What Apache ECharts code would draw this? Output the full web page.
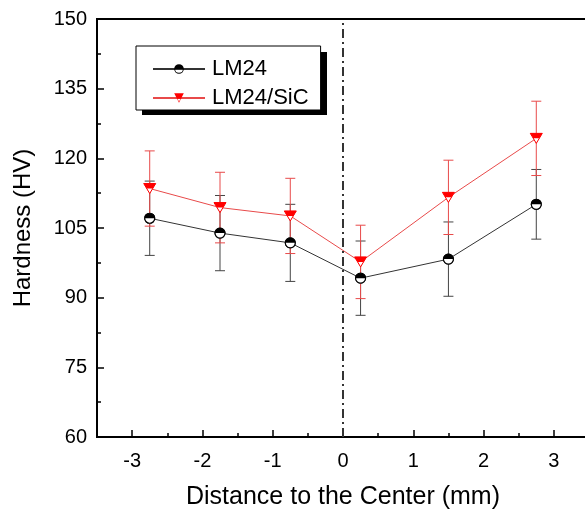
<!DOCTYPE html>
<html>
<head>
<meta charset="utf-8">
<script src="https://cdn.jsdelivr.net/npm/echarts@6/dist/echarts.min.js"></script>
<style>
  html, body { margin: 0; padding: 0; background: #fff; }
  #chart { width: 585px; height: 513px; }
</style>
</head>
<body>
<div id="chart"></div>
<script>
// positions along the weld, mm
var distance = [-2.75, -1.75, -0.75, 0.25, 1.5, 2.75]
// hardness HV and error bars
var lm24 = [107.1, 103.9, 101.8, 94.2, 98.3, 110.1]
var lm24Err = [8, 8.1, 8.3, 8, 8, 7.5]
var lm24Sic = [113.5, 109.4, 107.6, 97.7, 111.6, 124.3]
var lm24SicErr = [8.1, 7.6, 8.1, 7.9, 8, 8]
var xMajor = [-3, -2, -1, 0, 1, 2, 3]
var xMinor = [-2.5, -1.5, -0.5, 0.5, 1.5, 2.5]

var FONT = '"Liberation Sans", Arial, sans-serif'

// half filled symbols for the legend
var circlePath = 'path://M-5,0 A5,5 0 0 1 5,0 Z M-5,0 A5,5 0 0 0 5,0 L4,0 A4,4 0 0 1 -4,0 Z'
var triPath = 'path://M-6,-5 L6,-5 L3,0 L-3,0 Z M-3,0 L3,0 L0,5 Z M-2,0.8 L0,3.6 L2,0.8 Z'

function pairs(ys, errs) {
  return distance.map(function (x, i) {
    return errs ? [x, ys[i], errs[i]] : [x, ys[i]]
  })
}

function errorBars(color) {
  return function (params, api) {
    var x = api.value(0)
    var y = api.value(1)
    var e = api.value(2)
    var top = api.coord([x, y + e])
    var bot = api.coord([x, y - e])
    var w = 5
    var style = { stroke: color, lineWidth: 1 }
    return {
      type: 'group',
      children: [
        { type: 'line', shape: { x1: top[0], y1: top[1], x2: bot[0], y2: bot[1] }, style: style },
        { type: 'line', shape: { x1: top[0] - w, y1: top[1], x2: top[0] + w, y2: top[1] }, style: style },
        { type: 'line', shape: { x1: bot[0] - w, y1: bot[1], x2: bot[0] + w, y2: bot[1] }, style: style }
      ]
    }
  }
}

function circleMarker(params, api) {
  var p = api.coord([api.value(0), api.value(1)])
  var r = 5
  return {
    type: 'group',
    children: [
      { type: 'circle', shape: { cx: p[0], cy: p[1], r: r }, style: { fill: '#fff', stroke: '#000', lineWidth: 1.2 } },
      { type: 'sector', shape: { cx: p[0], cy: p[1], r: r, r0: 0, startAngle: Math.PI, endAngle: Math.PI * 2, clockwise: true }, style: { fill: '#000' } }
    ]
  }
}

function triMarker(params, api) {
  var p = api.coord([api.value(0), api.value(1)])
  var cx = p[0]
  var cy = p[1]
  return {
    type: 'group',
    children: [
      { type: 'polygon', shape: { points: [[cx - 6, cy - 5], [cx + 6, cy - 5], [cx, cy + 5]] }, style: { fill: '#fff', stroke: '#f00', lineWidth: 1 } },
      { type: 'polygon', shape: { points: [[cx - 6, cy - 5], [cx + 6, cy - 5], [cx + 3, cy], [cx - 3, cy]] }, style: { fill: '#f00' } }
    ]
  }
}

var chart = echarts.init(document.getElementById('chart'))
var option = {
  animation: false,
  textStyle: { fontFamily: FONT },
  grid: {
    left: 97,
    right: -4,
    top: 19,
    bottom: 76,
    outerBoundsMode: 'none',
    show: true,
    borderColor: '#000',
    borderWidth: 2,
    backgroundColor: 'transparent'
  },
  // hard drop shadow behind the legend box
  graphic: [
    { type: 'rect', left: 142, top: 52, shape: { width: 185, height: 63 }, style: { fill: '#000' }, z: 1 }
  ],
  legend: {
    left: 136,
    top: 46,
    orient: 'vertical',
    padding: [12, 12, 1, 16],
    itemWidth: 52,
    itemHeight: 12,
    itemGap: 7,
    backgroundColor: '#fff',
    borderColor: '#000',
    borderWidth: 1,
    z: 5,
    textStyle: { fontFamily: FONT, fontSize: 22, color: '#000', padding: [0, 0, 0, 2] },
    data: ['LM24', 'LM24/SiC']
  },
  xAxis: [
    {
      type: 'value',
      min: -3.5,
      max: 3.5,
      interval: 0.5,
      name: 'Distance to the Center (mm)',
      nameLocation: 'middle',
      nameGap: 48,
      nameTextStyle: { fontFamily: FONT, fontSize: 25, color: '#000' },
      axisLine: { onZero: false, lineStyle: { color: '#000', width: 2 } },
      axisTick: { inside: true, length: 7, customValues: xMajor, lineStyle: { color: '#000', width: 1.5 } },
      axisLabel: { customValues: xMajor, fontFamily: FONT, fontSize: 20, color: '#000', margin: 14 },
      splitLine: { show: false }
    },
    {
      type: 'value',
      position: 'bottom',
      min: -3.5,
      max: 3.5,
      interval: 0.5,
      axisLine: { show: false, onZero: false },
      axisTick: { inside: true, length: 4, customValues: xMinor, lineStyle: { color: '#000', width: 1.5 } },
      axisLabel: { show: false },
      splitLine: { show: false }
    }
  ],
  yAxis: {
    type: 'value',
    min: 60,
    max: 150,
    interval: 15,
    name: 'Hardness (HV)',
    nameLocation: 'middle',
    nameGap: 62,
    nameTextStyle: { fontFamily: FONT, fontSize: 24, color: '#000' },
    axisLine: { show: true, onZero: false, lineStyle: { color: '#000', width: 2 } },
    axisTick: { inside: true, length: 7, lineStyle: { color: '#000', width: 1.5 } },
    minorTick: { show: true, splitNumber: 2, length: 4, lineStyle: { color: '#000', width: 1.5 } },
    axisLabel: { fontFamily: FONT, fontSize: 20, color: '#000', margin: 10 },
    splitLine: { show: false }
  },
  series: [
    {
      name: 'LM24',
      type: 'line',
      data: pairs(lm24),
      symbol: circlePath,
      symbolSize: 11,
      itemStyle: { color: '#000' },
      lineStyle: { color: '#333', width: 1 },
      z: 2,
      markLine: {
        silent: true,
        symbol: 'none',
        label: { show: false },
        lineStyle: { color: '#333', width: 2, type: [9, 4, 2, 4] },
        data: [{ xAxis: 0 }]
      }
    },
    {
      name: 'LM24/SiC',
      type: 'line',
      data: pairs(lm24Sic),
      symbol: triPath,
      symbolSize: [12, 10],
      itemStyle: { color: '#f00' },
      lineStyle: { color: '#e84a4a', width: 1 },
      z: 2
    },
    {
      type: 'custom',
      data: pairs(lm24, lm24Err),
      renderItem: errorBars('#444'),
      z: 3
    },
    {
      type: 'custom',
      data: pairs(lm24Sic, lm24SicErr),
      renderItem: errorBars('#e84a4a'),
      z: 3
    },
    {
      type: 'custom',
      data: pairs(lm24),
      renderItem: circleMarker,
      z: 4
    },
    {
      type: 'custom',
      data: pairs(lm24Sic),
      renderItem: triMarker,
      z: 4
    }
  ]
}
chart.setOption(option)
</script>
</body>
</html>
